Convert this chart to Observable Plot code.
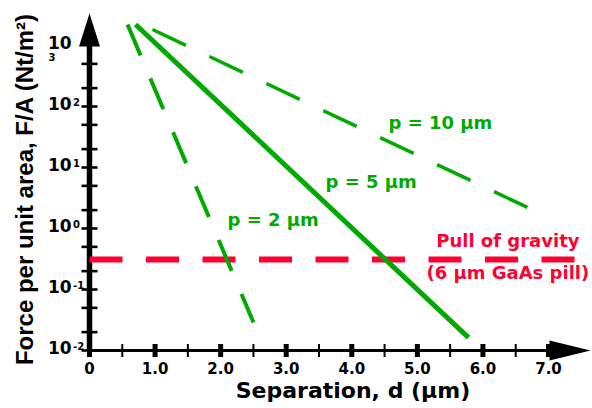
<!DOCTYPE html>
<html><head><meta charset="utf-8">
<script src="https://cdn.jsdelivr.net/npm/d3@7"></script>
<script src="https://cdn.jsdelivr.net/npm/@observablehq/plot@0.6"></script>
<style>body{margin:0;background:#fff} svg{display:block}</style>
</head><body><div id="chart"></div>
<script>
// ---- data ----
const xTickMajor = [0, 1, 2, 3, 4, 5, 6, 7];
const xTickMinor = [0.5, 1.5, 2.5, 3.5, 4.5, 5.5, 6.5];
const xTickLabels = ["0", "1.0", "2.0", "3.0", "4.0", "5.0", "6.0", "7.0"];
const yTickValues = [0.01, 0.02, 0.05, 0.1, 0.2, 0.5, 1, 2, 5, 10, 20, 50, 100, 200, 500];
const yLabelValues = [0.01, 0.1, 1, 10, 100, 1000];
const yLabelBase = ["10", "10", "10", "10", "10", "10"];
const yExpValues = [0.01, 0.1, 1, 10, 100];
const yExpTexts = ["-2", "-1", "0", "1", "2"];
const p2X = [0.580, 2.501], p2Y = [2208, 0.0288];
const p5X = [0.702, 5.780], p5Y = [2208, 0.0163];
const p10X = [0.961, 6.680], p10Y = [1828, 2.21];
const gravityX = [0, 7.41], gravityY = [0.31, 0.31];
const seriesLabels = ["p = 2 µm", "p = 5 µm", "p = 10 µm"];
const seriesLabelX = [2.105, 3.60, 4.56];
const seriesLabelY = [1.08, 4.53, 43.5];
const gravityLabels = ["Pull of gravity", "(6 µm GaAs pill)"];
const gravityLabelX = [6.38, 6.38];
const gravityLabelY = [0.489, 0.146];
const xTitle = "Separation, d (µm)";
const yTitle = "Force per unit area, F/A (Nt/m²)";

// ---- styles ----
const green = "#00aa00", red = "#ff0033";
const font = "DejaVu Sans";
const pts = (xs, ys) => xs.map((x, i) => ({x, y: ys[i]}));
const hTick = {draw(c) { c.moveTo(-8, 0); c.lineTo(8, 0); }};
const vTick = {draw(c) { c.moveTo(0, -6.5); c.lineTo(0, 6.5); }};
const upArrow = {draw(c) { c.moveTo(-10.5, 1); c.lineTo(0, -32); c.lineTo(10.5, 1); c.closePath(); }};
const rightArrow = {draw(c) { c.moveTo(1, -10); c.lineTo(42, 0); c.lineTo(1, 10); c.closePath(); }};

const chart = Plot.plot({
  width: 592, height: 408,
  marginLeft: 89, marginRight: 44, marginTop: 45, marginBottom: 58,
  style: {background: "white"},
  x: {domain: [0, 7], axis: null},
  y: {type: "log", domain: [0.01, 1000], axis: null},
  marks: [
    Plot.ruleY([0.01], {stroke: "black", strokeWidth: 3}),
    Plot.ruleX([0], {stroke: "black", strokeWidth: 5.5}),
    Plot.dot(yTickValues, {y: d => d, frameAnchor: "left", symbol: hTick, stroke: "black", fill: "none", strokeWidth: 2.6}),
    Plot.dot(xTickMinor, {x: d => d, frameAnchor: "bottom", symbol: vTick, stroke: "black", fill: "none", strokeWidth: 2}),
    Plot.dot(xTickMajor, {x: d => d, frameAnchor: "bottom", symbol: vTick, stroke: "black", fill: "none", strokeWidth: 5}),
    Plot.dot([1000], {y: d => d, frameAnchor: "left", symbol: upArrow, fill: "black", stroke: "none"}),
    Plot.dot([7], {x: d => d, frameAnchor: "bottom", symbol: rightArrow, fill: "black", stroke: "none"}),
    Plot.line(pts(gravityX, gravityY), {x: "x", y: "y", stroke: red, strokeWidth: 6, strokeDasharray: "33,23.5", strokeLinecap: "butt"}),
    Plot.line(pts(p2X, p2Y), {x: "x", y: "y", stroke: green, strokeWidth: 4, strokeDasharray: "33.5,25", strokeLinecap: "butt"}),
    Plot.line(pts(p10X, p10Y), {x: "x", y: "y", stroke: green, strokeWidth: 3.5, strokeDasharray: "37,26", strokeLinecap: "butt"}),
    Plot.line(pts(p5X, p5Y), {x: "x", y: "y", stroke: green, strokeWidth: 5, strokeLinecap: "butt"}),
    Plot.text(xTickMajor, {x: d => d, text: (d, i) => xTickLabels[i], frameAnchor: "bottom", lineAnchor: "bottom", dy: 23, fontFamily: font, fontWeight: "bold", fontSize: 15, fill: "black"}),
    Plot.text(yLabelValues, {y: d => d, text: (d, i) => yLabelBase[i], frameAnchor: "left", textAnchor: "start", lineAnchor: "bottom", dx: -41.5, dy: 3, fontFamily: font, fontWeight: "bold", fontSize: 17, fill: "black"}),
    Plot.text(yExpValues, {y: d => d, text: (d, i) => yExpTexts[i], frameAnchor: "left", textAnchor: "start", lineAnchor: "bottom", dx: -16.5, dy: -1, fontFamily: font, fontWeight: "bold", fontSize: 10, fill: "black"}),
    Plot.text([1000], {y: d => d, text: () => "3", frameAnchor: "left", textAnchor: "start", lineAnchor: "bottom", dx: -41, dy: 15, fontFamily: font, fontWeight: "bold", fontSize: 10, fill: "black"}),
    Plot.text(seriesLabels, {x: (d, i) => seriesLabelX[i], y: (d, i) => seriesLabelY[i], text: d => d, textAnchor: "start", lineAnchor: "bottom", fontFamily: font, fontWeight: "bold", fontSize: 18, fill: green}),
    Plot.text(gravityLabels, {x: (d, i) => gravityLabelX[i], y: (d, i) => gravityLabelY[i], text: d => d, textAnchor: "middle", lineAnchor: "bottom", fontFamily: font, fontWeight: "bold", fontSize: 18, fill: red}),
    Plot.text([xTitle], {text: d => d, frameAnchor: "bottom", textAnchor: "middle", lineAnchor: "bottom", dx: 34, dy: 47, fontFamily: font, fontWeight: "bold", fontSize: 22, fill: "black"}),
    Plot.text([yTitle], {text: d => d, frameAnchor: "left", textAnchor: "middle", rotate: -90, lineAnchor: "bottom", dx: -57, dy: -8.5, fontFamily: "Liberation Sans", fontWeight: "bold", fontSize: 24, fill: "black"})
  ]
});
document.getElementById("chart").appendChild(chart);
</script>
</body></html>
